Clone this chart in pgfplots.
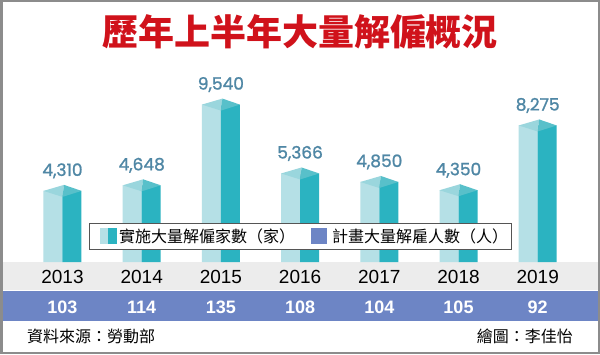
\documentclass[border=0pt]{standalone}
\usepackage{pgfplots}
\pgfplotsset{compat=1.18}
\usepackage{fontspec}
\setmainfont{Liberation Sans}
\newfontfamily\cjk{Noto Sans CJK TC}
\newfontfamily\valfont[FakeBold=1.2]{Poppins}
\definecolor{bordergray}{HTML}{8C8C8C}
\definecolor{bandgray}{HTML}{ECECEC}
\definecolor{bandblue}{HTML}{6D85C5}
\definecolor{barlight}{HTML}{B5E0E6}
\definecolor{barteal}{HTML}{2BB3C1}
\definecolor{roofL}{HTML}{9AD6DD}
\definecolor{roofR}{HTML}{58C0CA}
\definecolor{valc}{HTML}{4F87A5}
\definecolor{titlered}{HTML}{D0121B}
\definecolor{legborder}{HTML}{555555}
\pgfdeclareplotmark{roof}{%
  \pgfsetfillcolor{roofL}%
  \pgfpathmoveto{\pgfqpoint{-19pt}{0pt}}%
  \pgfpathlineto{\pgfqpoint{1.5pt}{6pt}}%
  \pgfpathlineto{\pgfqpoint{0pt}{-6pt}}%
  \pgfpathclose
  \pgfusepathqfill
  \pgfsetfillcolor{roofR}%
  \pgfpathmoveto{\pgfqpoint{0pt}{-6pt}}%
  \pgfpathlineto{\pgfqpoint{1.5pt}{6pt}}%
  \pgfpathlineto{\pgfqpoint{19pt}{0pt}}%
  \pgfpathclose
  \pgfusepathqfill
}
\begin{document}
\begin{tikzpicture}
\useasboundingbox (0,0) rectangle (600pt,354pt);
\begin{scope}[x=1pt,y=-1pt,yshift=354pt]
  \fill[white] (0,0) rectangle (600,354);
  \fill[bandgray] (2,262) rectangle (598,290);
  \fill[bandblue] (2,291) rectangle (598,321);
  \node[font=\cjk\bfseries\fontsize{36}{40}\selectfont, text=titlered] at (300,32) {歷年上半年大量解僱概況};
  \node[anchor=west, font=\cjk\fontsize{16}{18}\selectfont, inner sep=0pt] at (27,336) {資料來源：勞動部};
  \node[anchor=east, font=\cjk\fontsize{16}{18}\selectfont, inner sep=0pt] at (573,336) {繪圖：李佳怡};
\end{scope}
\begin{axis}[at={(0,0)}, anchor=south west, scale only axis,
  width=600pt, height=354pt,
  xmin=-0.7891, xmax=6.7866, ymin=-5575.76, ymax=15878.79,
  enlargelimits=false, hide axis, clip=false,
  /pgf/number format/assume math mode=true,
  /pgf/number format/1000 sep={,}]
\addplot[ybar, bar width=19pt, bar shift=-9.5pt, fill=barlight, draw=none]
  coordinates {(0,4310) (1,4648) (2,9540) (3,5366) (4,4850) (5,4350) (6,8275)};
\addplot[ybar, bar width=19pt, bar shift=9.5pt, fill=barteal, draw=none]
  coordinates {(0,4310) (1,4648) (2,9540) (3,5366) (4,4850) (5,4350) (6,8275)};
\addplot[only marks, mark=roof, nodes near coords,
  every node near coord/.append style={anchor=center, yshift=20pt,
    font=\valfont\fontsize{17}{19}\selectfont, text=valc}]
  coordinates {(0,4310) (1,4648) (2,9540) (3,5366) (4,4850) (5,4350) (6,8275)};
% years
\addplot[draw=none, mark=none, point meta=explicit symbolic, nodes near coords,
  every node near coord/.append style={anchor=center, yshift=0pt,
    font=\fontsize{19}{21}\selectfont, text=black}]
  coordinates {(0,-909)[2013] (1,-909)[2014] (2,-909)[2015] (3,-909)[2016] (4,-909)[2017] (5,-909)[2018] (6,-909)[2019]};
% planned layoffs (persons)
\addplot[draw=none, mark=none, point meta=explicit symbolic, nodes near coords,
  every node near coord/.append style={anchor=center, yshift=0pt,
    font=\bfseries\fontsize{18}{20}\selectfont, text=white}]
  coordinates {(0,-2727)[103] (1,-2727)[114] (2,-2727)[135] (3,-2727)[108] (4,-2727)[104] (5,-2727)[105] (6,-2727)[92]};
\end{axis}
\begin{scope}[x=1pt,y=-1pt,yshift=354pt]
  \draw[legborder, fill=white, line width=0.9pt] (89,223) rectangle (511,249);
  \fill[barlight] (100,228) rectangle (108,244);
  \fill[barteal] (108,228) rectangle (117,244);
  \node[anchor=west, font=\cjk\fontsize{16}{18}\selectfont, inner sep=0pt] at (119,236.5) {實施大量解僱家數（家）};
  \fill[bandblue] (311,228) rectangle (327,244);
  \node[anchor=west, font=\cjk\fontsize{16}{18}\selectfont, inner sep=0pt] at (332,236.5) {計畫大量解雇人數（人）};
  \draw[bordergray, line width=2.5pt] (1.25,1.25) rectangle (598.75,352.75);
\end{scope}
\end{tikzpicture}
\end{document}
